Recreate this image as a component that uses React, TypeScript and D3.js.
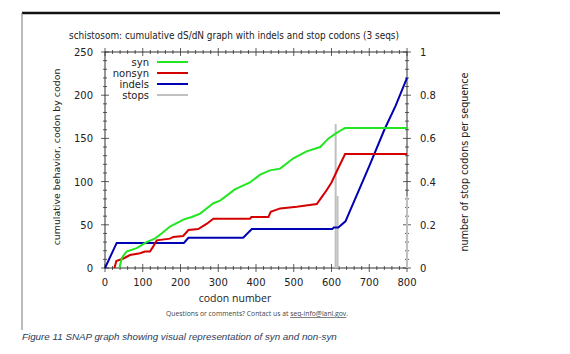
import React from "react";
import * as d3 from "d3";

const synData: [number, number][] = [
  [38, 0], [45, 12], [57, 19], [84, 23], [110, 30], [132, 34], [150, 40], [172, 48],
  [199, 54], [207, 56], [230, 59], [252, 63], [287, 75], [305, 78], [344, 91],
  [384, 99], [411, 108], [437, 113], [464, 115], [499, 127], [534, 135], [570, 140],
  [592, 150], [609, 155], [627, 160], [636, 162], [800, 162],
];
const nonsynData: [number, number][] = [
  [25, 0], [30, 8], [49, 11], [66, 15], [93, 17], [106, 19], [119, 19], [128, 25],
  [137, 32], [172, 34], [181, 36], [207, 37], [221, 44], [247, 45], [269, 51],
  [287, 57], [384, 57], [388, 59], [433, 59], [439, 65], [464, 69], [508, 71],
  [561, 74], [574, 82], [587, 90], [600, 99], [614, 112], [636, 132], [800, 132],
];
const indelData: [number, number][] = [
  [0, 0], [31, 29], [209, 29], [221, 35], [366, 35], [389, 45], [602, 45], [606, 47],
  [618, 47], [637, 54], [700, 118], [740, 160], [770, 188], [800, 220],
];
const stopPositions = [611, 616, 800];
const stopValues = [0.667, 0.333, 0.333];

const seriesNames = ["syn", "nonsyn", "indels", "stops"];
const seriesColors = ["#22e622", "#d40000", "#0000b4", "#c0c0c0"];
const xTicks = [0, 100, 200, 300, 400, 500, 600, 700, 800];
const yTicks = [0, 50, 100, 150, 200, 250];
const y2Ticks = [0, 0.2, 0.4, 0.6, 0.8, 1];

const title = "schistosom: cumulative dS/dN graph with indels and stop codons (3 seqs)";
const yTitle = "cumulative behavior, codon by codon";
const y2Title = "number of stop codons per sequence";
const xTitle = "codon number";
const caption = "Figure 11 SNAP graph showing visual representation of syn and non-syn";

export default function App() {
  const x = d3.scaleLinear().domain([0, 800]).range([105, 407]);
  const y = d3.scaleLinear().domain([0, 250]).range([268, 52]);
  const y2 = d3.scaleLinear().domain([0, 1]).range([268, 52]);
  const line = d3
    .line<[number, number]>()
    .x((d) => x(d[0]))
    .y((d) => y(d[1]));

  const xMinor = d3.range(0, 801, 20);
  const yMinor = d3.range(0, 251, 10);
  const y2Minor = d3.range(0, 1.0001, 0.04);
  const font = "DejaVu Sans, sans-serif";
  const axisColor = "#333";

  return (
    <svg
      width={570}
      height={354}
      style={{ position: "absolute", left: 0, top: 0, background: "#fff" }}
    >
      <rect x={0} y={0} width={570} height={354} fill="#fff" />
      {/* page frame */}
      <line x1={22} y1={13} x2={500} y2={13} stroke="#111" strokeWidth={2.5} />
      <line x1={22} y1={13} x2={22} y2={330} stroke="#777" strokeWidth={1} />

      <text x={69} y={39} fontFamily={font} fontSize={11} fill="#222" textLength={330} lengthAdjust="spacingAndGlyphs">
        {title}
      </text>

      {/* frame */}
      <rect x={105} y={52} width={302} height={216} fill="none" stroke={axisColor} strokeWidth={1} />
      {xMinor.map((v) => {
        const major = v % 100 === 0;
        const h = major ? 4 : 2;
        return (
          <g key={"xm" + v}>
            <line x1={x(v)} x2={x(v)} y1={268 - h} y2={268 + h} stroke={axisColor} strokeWidth={0.8} />
            <line x1={x(v)} x2={x(v)} y1={52 - h} y2={52 + h} stroke={axisColor} strokeWidth={0.8} />
          </g>
        );
      })}
      {yMinor.map((v) => {
        const major = v % 50 === 0;
        const h = major ? 4 : 2;
        return <line key={"ym" + v} x1={105 - h} x2={105 + h} y1={y(v)} y2={y(v)} stroke={axisColor} strokeWidth={0.8} />;
      })}
      {y2Minor.map((v, i) => {
        const major = i % 5 === 0;
        const h = major ? 4 : 2;
        return <line key={"y2m" + i} x1={407 - h} x2={407 + h} y1={y2(v)} y2={y2(v)} stroke={axisColor} strokeWidth={0.8} />;
      })}

      {/* stops */}
      {stopPositions.map((p, i) => (
        <line key={"s" + i} x1={x(p)} x2={x(p)} y1={y2(0)} y2={y2(stopValues[i])} stroke={seriesColors[3]} strokeWidth={2} />
      ))}

      {/* data lines */}
      <path d={line(indelData) || ""} fill="none" stroke={seriesColors[2]} strokeWidth={2} />
      <path d={line(nonsynData) || ""} fill="none" stroke={seriesColors[1]} strokeWidth={2} />
      <path d={line(synData) || ""} fill="none" stroke={seriesColors[0]} strokeWidth={2} />

      {/* tick labels */}
      {xTicks.map((v) => (
        <text key={"xt" + v} x={x(v)} y={286} textAnchor="middle" fontFamily={font} fontSize={10} fill="#222">
          {v}
        </text>
      ))}
      {yTicks.map((v) => (
        <text key={"yt" + v} x={93} y={y(v) + 4} textAnchor="end" fontFamily={font} fontSize={10} fill="#222">
          {v}
        </text>
      ))}
      {y2Ticks.map((v) => (
        <text key={"y2t" + v} x={420} y={y2(v) + 4} textAnchor="start" fontFamily={font} fontSize={10} fill="#222">
          {v}
        </text>
      ))}

      {/* legend */}
      {seriesNames.map((n, i) => (
        <g key={"lg" + n}>
          <text x={149} y={62 + i * 11 + 3.5} textAnchor="end" fontFamily={font} fontSize={10} fill="#222">
            {n}
          </text>
          <line x1={157} x2={188} y1={62 + i * 11} y2={62 + i * 11} stroke={seriesColors[i]} strokeWidth={2} />
        </g>
      ))}

      {/* axis titles */}
      <text transform="translate(60,157) rotate(-90)" textAnchor="middle" fontFamily={font} fontSize={9.4} fill="#222">
        {yTitle}
      </text>
      <text transform="translate(468,162) rotate(-90)" textAnchor="middle" fontFamily={font} fontSize={9.6} fill="#222">
        {y2Title}
      </text>
      <text x={235} y={302} textAnchor="middle" fontFamily="Open Sans, sans-serif" fontSize={10.5} fill="#222">
        {xTitle}
      </text>
      <text x={166} y={316} fontFamily="Open Sans, sans-serif" fontSize={6.8} fill="#444">
        Questions or comments? Contact us at{" "}
        <tspan textDecoration="underline" style={{ textDecoration: "underline" }}>seq-info@lanl.gov</tspan>.
      </text>

      <text x={22} y={340} fontFamily="Liberation Sans, Arial, sans-serif" fontStyle="italic" fontSize={9.8} fill="#2a3b5c">
        {caption}
      </text>
    </svg>
  );
}
